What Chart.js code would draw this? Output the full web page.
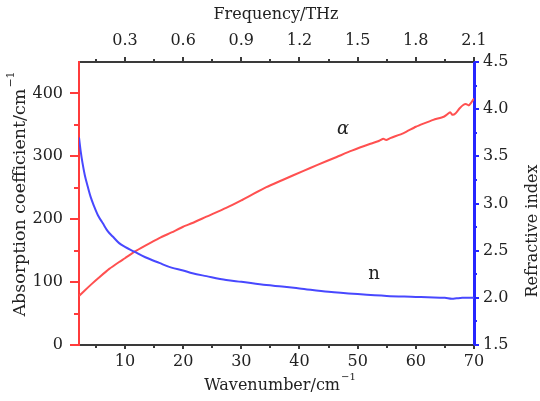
<!DOCTYPE html>
<html>
<head>
<meta charset="utf-8">
<script src="https://cdn.jsdelivr.net/npm/chart.js@4/dist/chart.umd.min.js"></script>
<style>
html,body{margin:0;padding:0;background:#fff;}
#wrap{width:540px;height:401px;position:relative;}
</style>
</head>
<body>
<div id="wrap"><canvas id="c" width="540" height="401"></canvas></div>
<script>
// ---- data ----
const alphaWavenumber = [2.1, 3, 4.4, 5.5, 7.3, 9, 10, 11.6, 13.5, 15.9, 18, 20, 21.6, 24, 27.4, 30, 32, 34.3, 37, 40.7, 43, 46.4, 49, 52.2, 53.5, 54.4, 54.9, 55.6, 57.9, 60, 61.3, 63, 64.8, 65.3, 65.9, 66.3, 66.8, 67.5, 68.2, 68.7, 69.1, 69.5, 70];
const alphaValues     = [78, 86, 98, 107, 121, 132, 138, 148, 158, 170, 179, 188, 194, 204, 218, 230, 240, 251, 262, 277, 286, 299, 309, 320, 324, 328, 326, 329, 337, 347, 352, 358, 363, 366, 370, 366, 368, 376, 382, 383, 381, 385, 392];

const nWavenumber = [2.1, 2.4, 2.7, 3.1, 3.6, 4.1, 4.7, 5.4, 6.2, 7, 7.9, 9, 10, 11.6, 13.5, 15.9, 18, 20, 21.6, 24, 27.4, 30, 34.3, 37, 40, 45, 50, 55, 60, 62, 65, 66.2, 67, 68, 70];
const nValues     = [3.70, 3.55, 3.43, 3.30, 3.18, 3.07, 2.97, 2.87, 2.79, 2.71, 2.65, 2.58, 2.54, 2.49, 2.43, 2.37, 2.32, 2.29, 2.26, 2.23, 2.19, 2.17, 2.135, 2.12, 2.10, 2.065, 2.04, 2.02, 2.01, 2.005, 2.0, 1.99, 1.995, 2.0, 2.0];

const wavenumberRange = [2.1, 70];       // cm^-1
const cmToTHz = 0.03;                     // top axis scale factor
const alphaRange = [0, 450];
const nRange = [1.5, 4.5];
const wavenumberStep = 5, frequencyStep = 0.15, alphaStep = 50, nStep = 0.25;

const annotations = [
  {text: 'α', x: 47.5, y: 343.5, axis: 'y', italic: true},
  {text: 'n', x: 52.8, y: 2.253, axis: 'y2', italic: false}
];

// ---- styles ----
const FONT = 'DejaVu Serif';
const TXT = '#222';
const RED_AXIS = '#ff3b3b', RED_LINE = '#ff5050';
const BLUE_AXIS = '#2626ff', BLUE_LINE = '#4848ff';
const DARK_AXIS = '#3a3a3a';

function isMultiple(v, step) {
  const k = v / step;
  return Math.abs(k - Math.round(k)) < 1e-6;
}
function majorLabel(step, digits) {
  return function (v) {
    if (!isMultiple(v, step / 2)) return '';
    const k = Math.round(v / (step / 2));
    return k % 2 === 0 ? v.toFixed(digits) : '';
  };
}

const tickSpec = {
  x:  {step: wavenumberStep, len: [4, 3], color: DARK_AXIS, side: 'bottom'},
  x2: {step: frequencyStep,  len: [5, 3], color: DARK_AXIS, side: 'top'},
  y:  {step: alphaStep,      len: [9, 5], color: RED_AXIS,  side: 'left'},
  y2: {step: nStep,          len: [5, 3], color: BLUE_AXIS, side: 'right'}
};

const tickMarks = {
  id: 'tickMarks',
  afterDraw(chart) {
    const ctx = chart.ctx;
    const area = chart.chartArea;
    ctx.save();
    for (const id in tickSpec) {
      const sc = chart.scales[id];
      const sp = tickSpec[id];
      ctx.strokeStyle = sp.color;
      ctx.lineWidth = 2;
      sc.ticks.forEach(t => {
        const v = t.value;
        if (!isMultiple(v, sp.step)) return;
        if (id === 'y' && v === sc.max) return;
        const major = Math.round(v / sp.step) % 2 === 0;
        const L = major ? sp.len[0] : sp.len[1];
        const p = Math.round(sc.getPixelForValue(v));
        ctx.beginPath();
        if (sp.side === 'bottom') { ctx.moveTo(p, area.bottom); ctx.lineTo(p, area.bottom + L); }
        if (sp.side === 'top')    { ctx.moveTo(p, area.top);    ctx.lineTo(p, area.top - L); }
        if (sp.side === 'left')   { ctx.moveTo(area.left, p);   ctx.lineTo(area.left - L, p); }
        if (sp.side === 'right')  { ctx.moveTo(area.right, p);  ctx.lineTo(area.right + L, p); }
        ctx.stroke();
      });
    }
    ctx.restore();
  }
};

function drawSupText(ctx, main, sup, cx, baseY, size) {
  ctx.font = size + 'px "' + FONT + '"';
  const w1 = ctx.measureText(main).width;
  ctx.font = Math.round(size * 0.62) + 'px "' + FONT + '"';
  const w2 = ctx.measureText(sup).width;
  const total = w1 + w2 + 1;
  let x = cx - total / 2;
  ctx.textAlign = 'left';
  ctx.textBaseline = 'alphabetic';
  ctx.font = size + 'px "' + FONT + '"';
  ctx.fillText(main, x, baseY);
  ctx.font = Math.round(size * 0.62) + 'px "' + FONT + '"';
  ctx.fillText(sup, x + w1 + 1, baseY - size * 0.62);
}

const titles = {
  id: 'titles',
  afterDraw(chart) {
    const ctx = chart.ctx;
    ctx.save();
    ctx.fillStyle = TXT;
    // top
    ctx.font = '16px "' + FONT + '"';
    ctx.textAlign = 'center';
    ctx.textBaseline = 'alphabetic';
    ctx.fillText('Frequency/THz', 276, 19);
    // bottom
    drawSupText(ctx, 'Wavenumber/cm', '−1', 280, 390, 16);
    // left
    ctx.save();
    ctx.translate(25, 194);
    ctx.rotate(-Math.PI / 2);
    drawSupText(ctx, 'Absorption coefficient/cm', '−1', 0, 0, 17.5);
    ctx.restore();
    // right
    ctx.save();
    ctx.translate(537, 231);
    ctx.rotate(-Math.PI / 2);
    ctx.font = '16px "' + FONT + '"';
    ctx.textAlign = 'center';
    ctx.textBaseline = 'alphabetic';
    ctx.fillText('Refractive index', 0, 0);
    ctx.restore();
    // curve labels
    annotations.forEach(a => {
      const px = chart.scales.x.getPixelForValue(a.x);
      const py = chart.scales[a.axis].getPixelForValue(a.y);
      ctx.font = (a.italic ? 'italic ' : '') + '18px "' + FONT + '"';
      ctx.textAlign = 'center';
      ctx.textBaseline = 'middle';
      ctx.fillText(a.text, px, py);
    });
    ctx.restore();
  }
};

const tickFont = {family: FONT, size: 16};

new Chart(document.getElementById('c'), {
  type: 'line',
  data: {
    datasets: [
      {
        label: 'n',
        data: nWavenumber.map((x, i) => ({x: x, y: nValues[i]})),
        xAxisID: 'x', yAxisID: 'y2',
        borderColor: BLUE_LINE, borderWidth: 2, pointRadius: 0,
        cubicInterpolationMode: 'monotone', fill: false
      },
      {
        label: 'α',
        data: alphaWavenumber.map((x, i) => ({x: x, y: alphaValues[i]})),
        xAxisID: 'x', yAxisID: 'y',
        borderColor: RED_LINE, borderWidth: 2, pointRadius: 0,
        tension: 0.2, fill: false
      }
    ]
  },
  options: {
    responsive: false,
    animation: false,
    devicePixelRatio: 1,
    layout: {padding: 0},
    plugins: {legend: {display: false}, tooltip: {enabled: false}},
    scales: {
      x: {
        type: 'linear', position: 'bottom',
        min: wavenumberRange[0], max: wavenumberRange[1],
        afterFit: s => { s.height = 56; },
        grid: {display: true, drawOnChartArea: false, drawTicks: false},
        border: {display: true, color: DARK_AXIS, width: 2},
        ticks: {stepSize: wavenumberStep, includeBounds: false, autoSkip: false, maxRotation: 0,
                padding: 7, color: TXT, font: tickFont, callback: majorLabel(wavenumberStep * 2, 0)}
      },
      x2: {
        type: 'linear', position: 'top',
        min: wavenumberRange[0] * cmToTHz, max: wavenumberRange[1] * cmToTHz,
        afterFit: s => { s.height = 62; },
        grid: {display: true, drawOnChartArea: false, drawTicks: false},
        border: {display: true, color: DARK_AXIS, width: 2},
        ticks: {stepSize: frequencyStep, includeBounds: false, autoSkip: false, maxRotation: 0,
                padding: 12, color: TXT, font: tickFont, callback: majorLabel(frequencyStep * 2, 1)}
      },
      y: {
        type: 'linear', position: 'left',
        min: alphaRange[0], max: alphaRange[1],
        afterFit: s => { s.width = 79; },
        grid: {display: true, drawOnChartArea: false, drawTicks: false},
        border: {display: true, color: RED_AXIS, width: 2},
        ticks: {stepSize: alphaStep, includeBounds: false, autoSkip: false,
                padding: 16, color: TXT, font: tickFont, callback: majorLabel(alphaStep * 2, 0)}
      },
      y2: {
        type: 'linear', position: 'right',
        min: nRange[0], max: nRange[1],
        afterFit: s => { s.width = 66; },
        grid: {display: true, drawOnChartArea: false, drawTicks: false},
        border: {display: true, color: BLUE_AXIS, width: 3},
        ticks: {stepSize: nStep, includeBounds: false, autoSkip: false,
                padding: 9, color: TXT, font: tickFont, callback: majorLabel(nStep * 2, 1)}
      }
    }
  },
  plugins: [tickMarks, titles]
});
</script>
</body>
</html>
